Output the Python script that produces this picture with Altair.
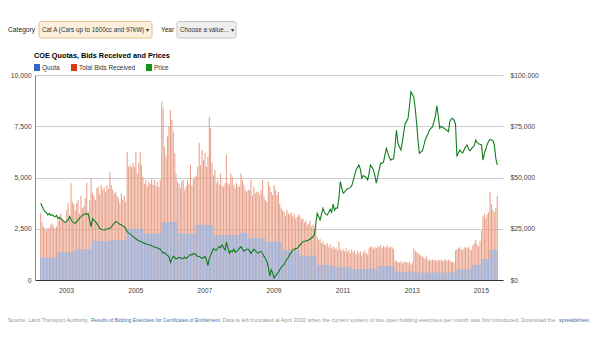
import altair as alt
import numpy as np
import pandas as pd

# ---------------------------------------------------------------------------
# Category A COE: two open bidding exercises per month, April 2002 - June 2015
# ---------------------------------------------------------------------------

# Quota per bidding exercise, one value per quarter (2002Q2 ... 2015Q2)
quota_by_quarter = [
    1100, 1100, 1350, 1350, 1500, 1500, 1900, 1900, 1950, 1950,
    2500, 2500, 2270, 2270, 2830, 2830, 2270, 2270, 2680, 2680,
    2200, 2200, 2200, 2300, 2050, 2050, 1870, 1870, 1450, 1450,
    1180, 1180, 730, 730, 620, 620, 540, 540, 550, 680,
    680, 400, 400, 370, 370, 370, 370, 370, 520, 520,
    730, 1030, 1460,
]

# Total bids received, one value per exercise (six exercises per quarter)
bids_received = [
    3250, 2800, 2600, 2500, 2400, 2550,   # 2002Q2
    2500, 2700, 2760, 2600, 2500, 2600,
    2900, 3090, 3250, 3000, 2900, 2800,
    3410, 3740, 3000, 4715, 3820, 3700,   # 2003Q1
    3400, 3750, 3900, 3250, 4100, 3500,
    3600, 4000, 4730, 3350, 3900, 4960,
    4230, 4100, 3900, 4470, 4550, 4200,
    4630, 4400, 4550, 4300, 4630, 4450,   # 2004Q1
    5280, 4630, 4400, 4230, 4300, 4100,
    4000, 3750, 4230, 3900, 4100, 3800,
    6260, 5530, 5600, 5500, 5700, 5530,
    6260, 5200, 5700, 6260, 5600, 5040,   # 2005Q1
    4700, 4880, 4550, 4800, 4700, 4900,
    4650, 4880, 4600, 4800, 4550, 4880,
    8700, 8370, 6500, 6020, 7000, 7480,
    8290, 7800, 7240, 6180, 5200, 4800,   # 2006Q1
    4700, 4500, 4800, 4880, 4400, 4600,
    4880, 4700, 5610, 4600, 4900, 5040,
    5100, 5530, 6700, 5600, 6340, 5850,
    6180, 5530, 6000, 7950, 7400, 5690,   # 2007Q1
    5100, 5360, 4720, 4880, 4650, 5200,
    4600, 4550, 4720, 6100, 4720, 4650,
    5200, 5040, 4650, 4500, 4720, 4600,
    4550, 5200, 4880, 4650, 4390, 4310,   # 2008Q1
    4400, 4390, 4880, 4150, 4550, 4230,
    4310, 4300, 4150, 4390, 4880, 4070,
    3900, 3800, 4800, 4550, 4300, 4150,
    4630, 4400, 4150, 4300, 3700, 3500,   # 2009Q1
    3400, 3300, 3100, 3410, 3250, 3200,
    3300, 3100, 3250, 3000, 3090, 3200,
    3100, 2950, 3000, 2800, 2900, 2700,
    2750, 2900, 2600, 2700, 2500, 2600,   # 2010Q1
    2100, 1950, 2000, 1800, 1900, 1750,
    1700, 1800, 1600, 1750, 1550, 1650,
    1500, 1600, 1450, 1870, 1500, 1400,
    1500, 1400, 1550, 1350, 1450, 1300,   # 2011Q1
    1500, 1350, 1450, 1250, 1400, 1300,
    1400, 1200, 1350, 1450, 1300, 1250,
    1550, 1650, 1600, 1500, 1620, 1550,
    1650, 1600, 1700, 1550, 1650, 1600,   # 2012Q1
    1600, 1700, 1550, 1650, 1600, 1500,
    950, 900, 880, 850, 920, 800,
    900, 850, 880, 820, 870, 750,
    850, 1540, 1400, 1350, 1300, 1250,    # 2013Q1
    1200, 1150, 1100, 1050, 1150, 950,
    1000, 950, 1000, 950, 980, 900,
    980, 950, 1000, 920, 960, 1000,
    950, 1000, 940, 900, 860, 830,        # 2014Q1
    1450, 1500, 1550, 1600, 1500, 1450,
    1580, 1600, 1550, 1630, 1500, 1450,
    1700, 1800, 1950, 1750, 1650, 1900,
    2400, 3100, 3250, 3000, 3200, 3300,   # 2015Q1
    4300, 3700, 3400, 3300, 3500, 4100,
]

# Quota premium in S$ thousands, one value per exercise (12 per half-year)
price_k = [
    37.4, 36.0, 34.5, 33.3, 32.8, 31.7, 32.5, 31.5, 31.9, 31.2, 30.9, 31.5,
    30.0, 30.6, 29.8, 29.3, 28.6, 28.0, 28.8, 29.3, 31.0, 29.5, 28.5, 28.0,
    27.6, 28.4, 29.3, 30.2, 30.8, 31.6, 31.9, 32.5, 32.0, 32.2, 29.0, 26.0,
    30.0, 29.2, 28.3, 27.6, 26.3, 25.2, 24.8, 24.5, 24.4, 24.6, 24.9, 25.0,
    25.2, 25.8, 26.8, 27.6, 28.5, 28.3, 27.6, 27.2, 26.8, 26.4, 26.0, 25.0,
    23.6, 23.0, 22.4, 21.9, 21.2, 20.7, 20.1, 19.5, 19.2, 18.9, 18.6, 18.3,
    17.9, 17.6, 17.4, 17.2, 17.1, 16.8, 16.3, 16.1, 16.0, 15.6, 15.3, 15.0,
    14.0, 13.0, 13.4, 12.5, 12.0, 11.4, 8.5, 10.2, 11.5, 11.0, 10.2, 10.6,
    11.0, 10.8, 10.5, 10.5, 11.2, 10.5, 11.0, 11.8, 12.5, 12.2, 12.9, 12.8,
    12.2, 11.5, 11.5, 11.0, 10.6, 11.0, 11.5, 10.0, 7.0, 10.5, 12.0, 13.5,
    15.4, 14.8, 14.5, 15.5, 16.3, 15.8, 17.1, 16.0, 14.6, 18.5, 15.5, 13.0,
    14.2, 13.8, 15.0, 13.5, 14.0, 14.6, 15.5, 16.3, 15.2, 14.0, 14.5, 15.0,
    15.0, 14.2, 13.0, 14.0, 15.0, 14.2, 13.5, 13.0, 13.8, 14.0, 12.8, 11.5,
    10.5, 9.2, 6.0, 2.0, 5.0, 3.5, 1.0, 2.0, 3.0, 3.8, 5.0, 6.2,
    7.0, 7.5, 9.0, 10.2, 11.0, 12.5, 13.5, 14.6, 15.0, 15.3, 15.5, 16.2,
    17.1, 17.8, 18.7, 18.9, 19.0, 19.2, 19.5, 20.0, 20.6, 21.1, 22.0, 27.0,
    32.5, 31.0, 29.3, 32.0, 35.0, 33.0, 32.0, 31.7, 33.0, 34.5, 33.0, 37.0,
    34.0, 35.2, 35.0, 40.0, 48.0, 45.0, 42.3, 43.0, 44.0, 44.5, 44.7, 45.2,
    46.0, 48.5, 51.0, 53.7, 55.0, 56.1, 54.0, 49.6, 51.0, 50.5, 50.0, 48.8,
    52.0, 56.1, 55.0, 53.7, 51.0, 47.2, 50.5, 54.0, 56.9, 57.0, 57.5, 61.0,
    64.2, 62.0, 60.0, 58.5, 59.0, 59.0, 65.0, 73.2, 66.7, 65.0, 63.4, 67.0,
    72.0, 76.4, 77.5, 78.9, 85.0, 91.9, 90.5, 89.0, 83.0, 75.6, 68.0, 61.8,
    62.5, 63.0, 65.5, 68.3, 70.0, 71.5, 73.2, 74.0, 74.8, 77.2, 80.0, 85.0,
    80.0, 74.0, 75.0, 74.5, 74.0, 73.5, 73.0, 72.4, 77.5, 78.5, 78.9, 78.0,
    76.0, 60.2, 62.0, 63.4, 62.5, 62.0, 63.5, 65.0, 65.9, 64.0, 63.0, 64.0,
    64.8, 65.5, 68.3, 67.0, 66.5, 66.2, 66.0, 58.5, 62.0, 64.0, 66.0, 67.5,
    68.6, 68.3, 68.0, 66.0, 59.3, 56.1,
]

year_ticks = [2003, 2005, 2007, 2009, 2011, 2013, 2015]
left_ticks = [0, 2500, 5000, 7500, 10000]
right_ticks = [0, 25000, 50000, 75000, 100000]

# ---------------------------------------------------------------------------
# Table: one row per exercise (first and second exercise of each month)
months = pd.date_range("2002-04-01", "2015-06-01", freq="MS")
dates = []
for m in months:
    dates.append((m + pd.Timedelta(days=7)).strftime("%Y-%m-%dT00:00:00"))
    dates.append((m + pd.Timedelta(days=22)).strftime("%Y-%m-%dT00:00:00"))

df = pd.DataFrame({
    "date": dates,
    "bids": bids_received,
    "quota": np.repeat(quota_by_quarter, 6),
    "price": [p * 1000 for p in price_k],
})

FONT = "Liberation Sans, Arial, sans-serif"
OX, OY = 35, 75  # plot origin inside the page

x_enc = alt.X(
    "date:T",
    scale=alt.Scale(domain=[alt.DateTime(year=2002, month=4, date=1),
                            alt.DateTime(year=2015, month=7, date=1)]),
    axis=alt.Axis(
        values=[alt.DateTime(year=y, month=1, date=1) for y in year_ticks],
        format="%Y", title=None, grid=False, ticks=False, labelPadding=7,
        labelFont=FONT, labelFontSize=6.8, labelColor="#444",
        domainColor="#333", labelFlush=False,
    ),
)

bars = alt.Chart(df).transform_fold(
    ["bids", "quota"], as_=["series", "value"]
).mark_bar(width=1.1).encode(
    x=x_enc,
    y=alt.Y(
        "value:Q", stack=None,
        scale=alt.Scale(domain=[0, 10000], nice=False),
        axis=alt.Axis(
            values=left_ticks, format=",.0f", title=None, ticks=False,
            labelPadding=4, labelFont=FONT, labelFontSize=6.8,
            labelColor="#444", gridColor="#cccccc", domainColor="#888",
        ),
    ),
    color=alt.Color(
        "series:N",
        scale=alt.Scale(domain=["bids", "quota"], range=["#e9a38c", "#9fb6e0"]),
        legend=None,
    ),
    order=alt.Order("series:N"),
)

line = alt.Chart(df).mark_line(color="#127d1d", strokeWidth=1.1).encode(
    x=alt.X("date:T"),
    y=alt.Y(
        "price:Q",
        scale=alt.Scale(domain=[0, 100000], nice=False),
        axis=alt.Axis(
            orient="right", values=right_ticks, format="$,.0f", title=None,
            grid=False, ticks=False, domain=False, labelPadding=7,
            labelFont=FONT, labelFontSize=6.8, labelColor="#444",
        ),
    ),
)

one = alt.Data(values=[{"k": 1}])


def label(text, px, py, size=6.5, color="#222", weight="normal", align="left"):
    return alt.Chart(one).mark_text(
        text=text, align=align, baseline="middle", font=FONT, fontSize=size,
        color=color, fontWeight=weight,
    ).encode(x=alt.value(px - OX), y=alt.value(py - OY))


def box(x0, x1, y0, y1, fill, stroke=None, radius=0):
    kw = dict(fill=fill, cornerRadius=radius)
    if stroke:
        kw.update(stroke=stroke, strokeWidth=1)
    return alt.Chart(one).mark_rect(**kw).encode(
        x=alt.value(x0 - OX), x2=alt.value(x1 - OX),
        y=alt.value(y0 - OY), y2=alt.value(y1 - OY),
    )


decor = [
    # selectors above the chart
    label("Category", 8, 30, size=6.7, color="#222"),
    box(39, 152, 21.5, 38, "#fcefdc", "#e6c28f", 2),
    label("Cat A (Cars up to 1600cc and 97kW) \u25BE", 42, 30, size=6.3, color="#333"),
    label("Year", 161, 30, size=6.5, color="#222"),
    box(177, 236, 21.5, 38, "#eeeeee", "#c4c4c4", 2),
    label("Choose a value... \u25BE", 180, 30, size=6.3, color="#333"),
    # title
    label("COE Quotas, Bids Received and Prices", 34, 56, size=7.3,
          color="#000", weight="bold"),
    # legend
    box(34, 40, 64, 71, "#3366cc"),
    label("Quota", 42, 67.5, size=6.5, color="#333"),
    box(71, 77, 64, 71, "#dc3912"),
    label("Total Bids Received", 79, 67.5, size=6.4, color="#333"),
    box(146, 152, 64, 71, "#109618"),
    label("Price", 154, 67.5, size=6.4, color="#333"),
    # source line
    label("Source: Land Transport Authority, ", 7.7, 320, size=5.5, color="#9a9a9a"),
    label("Results of Bidding Exercises for Certificates of Entitlement", 91, 320,
          size=5.0, color="#4a6fa5"),
    label(". Data is left truncated at April 2002 when the current system of two open "
          "bidding exercises per month was first introduced. Download the",
          219.5, 320, size=5.55, color="#9a9a9a"),
    label("spreadsheet.", 559, 320, size=5.4, color="#4a6fa5"),
]

chart = alt.layer(bars, line, *decor).resolve_scale(
    y="independent"
).properties(
    width=468,
    height=205,
    padding={"left": OX, "top": OY, "right": 600 - OX - 468, "bottom": 338 - OY - 205},
    autosize=alt.AutoSizeParams(type="none"),
    background="white",
).configure_view(stroke=None)

chart.save("out.html", embed_options={"renderer": "svg", "actions": False})
